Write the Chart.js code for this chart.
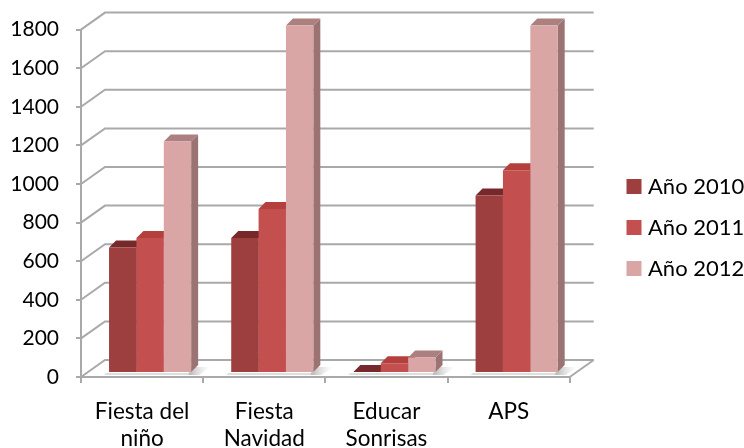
<!DOCTYPE html>
<html>
<head>
<meta charset="utf-8">
<style>
  html, body { margin: 0; padding: 0; background: #fff; }
  #wrap { width: 744px; height: 448px; }
  canvas { filter: blur(0.4px); }
</style>
<script src="https://cdn.jsdelivr.net/npm/chart.js@4"></script>
</head>
<body>
<div id="wrap"><canvas id="chart" width="744" height="448"></canvas></div>
<script>
const categories = [['Fiesta del', 'niño'], ['Fiesta', 'Navidad'], ['Educar', 'Sonrisas'], ['APS']];
const year2010 = [650, 700, 5, 920];
const year2011 = [700, 850, 50, 1050];
const year2012 = [1200, 1800, 80, 1800];
const yTicks = [0, 200, 400, 600, 800, 1000, 1200, 1400, 1600, 1800];

const GRID = '#a9a9a9';
const WALL_X = 24, WALL_Y = 17;   // depth of the back wall
const BAR_X = 8, BAR_Y = 4;       // bars stand a little behind the front edge
const DEPTH = 7;                  // depth of one bar

const frontColors = ['#9e3f3f', '#c34f4e', '#d9a5a5'];
const sideColors = ['#7d3434', '#94403c', '#9c7373'];
const topColors = ['#76282a', '#b53f3c', '#ad8080'];

function poly(ctx, pts, fill) {
  ctx.beginPath();
  pts.forEach((p, i) => i ? ctx.lineTo(p[0], p[1]) : ctx.moveTo(p[0], p[1]));
  ctx.closePath();
  ctx.fillStyle = fill;
  ctx.fill();
}

// back wall, floor and the sides/tops of the bars
const box3d = {
  id: 'box3d',
  beforeDatasetsDraw(chart) {
    const { ctx, chartArea: a, scales: { y } } = chart;
    ctx.save();
    ctx.strokeStyle = GRID;
    ctx.lineWidth = 2;
    yTicks.forEach(v => {
      const py = y.getPixelForValue(v);
      ctx.beginPath();
      ctx.moveTo(a.left, py);
      ctx.lineTo(a.left + WALL_X, py - WALL_Y);
      ctx.lineTo(a.right + WALL_X, py - WALL_Y);
      ctx.stroke();
    });
    ctx.beginPath();
    ctx.moveTo(a.right, a.bottom);
    ctx.lineTo(a.right + WALL_X, a.bottom - WALL_Y);
    ctx.stroke();
    // floor shadow to the right of each cluster
    chart.getDatasetMeta(0).data.forEach((bar, i) => {
      const last = chart.getDatasetMeta(2).data[i];
      const x0 = bar.x - bar.width / 2 + BAR_X, x1 = last.x + last.width / 2 + BAR_X;
      const by = a.bottom - BAR_Y;
      const g = ctx.createLinearGradient(x1, 0, x1 + 20, 0);
      g.addColorStop(0, 'rgba(130,130,130,0.5)');
      g.addColorStop(1, 'rgba(210,210,210,0)');
      poly(ctx, [[x1, by - 6], [x1 + 20, by - 6], [x1 + 8, by + 2], [x1 - 3, by + 2]], g);
      poly(ctx, [[x0 - 3, by], [x1, by], [x1 - 3, by + 2], [x0 - 5, by + 2]], 'rgba(190,190,190,0.5)');
    });
    ctx.translate(BAR_X, -BAR_Y);
    chart.data.datasets.forEach((ds, d) => {
      chart.getDatasetMeta(d).data.forEach(bar => {
        const l = bar.x - bar.width / 2, r = bar.x + bar.width / 2;
        poly(ctx, [[r, bar.y], [r + DEPTH, bar.y - DEPTH], [r + DEPTH, bar.base - DEPTH], [r, bar.base]], sideColors[d]);
        poly(ctx, [[l, bar.y], [l + DEPTH, bar.y - DEPTH], [r + DEPTH, bar.y - DEPTH], [r, bar.y]], topColors[d]);
      });
    });
  },
  afterDatasetsDraw(chart) {
    chart.ctx.restore();
  },
  // legend sits away from the plot, past the right end of the floor
  afterLayout(chart) {
    const lg = chart.legend;
    const w = lg.width, h = lg.height;
    lg.left = 612; lg.right = lg.left + w;
    lg.top -= 10; lg.bottom = lg.top + h;
  }
};

const font = { family: 'Lato', size: 21 };
const labelFont = { family: 'Lato', size: 22.5, lineHeight: 1.22 };
const legendFont = { family: 'Lato', size: 22 };

new Chart(document.getElementById('chart'), {
  type: 'bar',
  data: {
    labels: categories,
    datasets: [
      { label: 'Año 2010', data: year2010, backgroundColor: frontColors[0] },
      { label: 'Año 2011', data: year2011, backgroundColor: frontColors[1] },
      { label: 'Año 2012', data: year2012, backgroundColor: frontColors[2] }
    ]
  },
  plugins: [box3d],
  options: {
    responsive: false,
    animation: false,
    categoryPercentage: 0.672,
    barPercentage: 1,
    layout: { padding: { top: 27, right: 32, left: 0, bottom: 0 } },
    plugins: {
      tooltip: { enabled: false },
      legend: {
        position: 'right',
        labels: {
          boxWidth: 6,
          boxHeight: 6,
          padding: 19,
          color: '#000',
          font: legendFont,
          // thick outline so the swatch ends up close to the text
          generateLabels(chart) {
            return chart.data.datasets.map((ds, i) => ({
              text: ds.label,
              fillStyle: frontColors[i],
              strokeStyle: frontColors[i],
              lineWidth: 9,
              datasetIndex: i
            }));
          }
        }
      }
    },
    scales: {
      x: {
        grid: { drawOnChartArea: false, tickLength: 6, color: GRID, lineWidth: 2 },
        border: { color: GRID, width: 2 },
        ticks: { color: '#000', font: labelFont, padding: 15, maxRotation: 0, autoSkip: false },
        afterFit(s) { s.height = 71; }
      },
      y: {
        min: 0,
        max: 1800,
        grid: { drawOnChartArea: false, tickLength: 5, color: GRID, lineWidth: 2 },
        border: { color: GRID, width: 2 },
        ticks: { color: '#000', font: font, padding: 17, stepSize: 200, callback: v => String(v) },
        afterFit(s) { s.width = 81; }
      }
    }
  }
});
</script>
</body>
</html>
